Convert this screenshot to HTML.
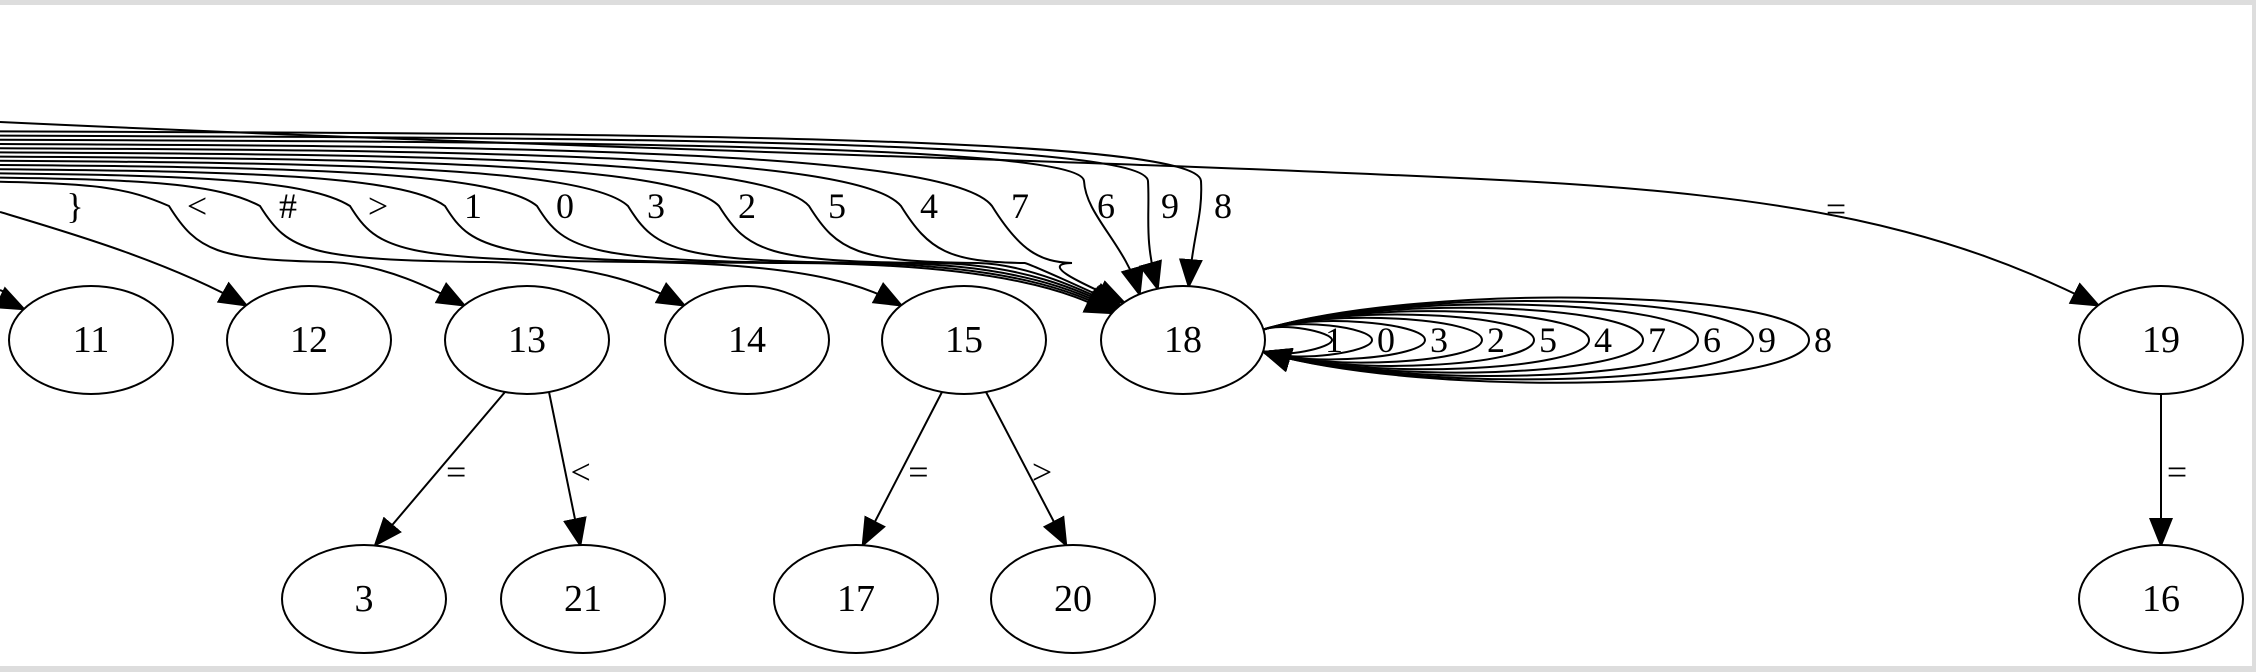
<!DOCTYPE html>
<html><head><meta charset="utf-8"><style>
html,body{margin:0;padding:0;background:#fff;}
#wrap{width:2256px;height:672px;position:relative;overflow:hidden;background:#fff;}
svg text{font-family:"Liberation Serif",serif;}
</style></head><body>
<div id="wrap">
<svg id="g" width="2256" height="672" xmlns="http://www.w3.org/2000/svg">
<defs><marker id="ah" viewBox="0 0 10 10" refX="9" refY="5" markerWidth="30" markerHeight="30" markerUnits="userSpaceOnUse" orient="auto"><path d="M0,1 L10,5 L0,9 z" fill="#000"/></marker></defs>
<rect x="0" y="0" width="2256" height="5" fill="#ddd"/>
<rect x="0" y="666" width="2256" height="6" fill="#ddd"/>
<rect x="2252" y="0" width="4" height="672" fill="#ddd"/>
</svg></div>
<script>
const nodeIds=["11","12","13","14","15","18","19","3","21","17","20","16"];
const nodeX=[91,309,527,747,964,1183,2161,364,583,856,1073,2161];
const nodeY=[340,340,340,340,340,340,340,599,599,599,599,599];
const topLabels=["}","<","#",">","1","0","3","2","5","4","7","6","9","8"];
const topTargets=["12","13","14","15","18","18","18","18","18","18","18","18","18","18"];
const topLabelX=[75,197,288,378,473,565,656,747,837,929,1020,1106,1170,1223];
const loopLabels=["1","0","3","2","5","4","7","6","9","8"];
const loopLabelX=[1334,1386,1439,1496,1548,1603,1657,1712,1767,1823];
const treeFrom=["13","13","15","15","19"];
const treeTo=["3","21","17","20","16"];
const treeLabels=["=","<","=",">","="];
const svg=document.getElementById('g');
const NS='http://www.w3.org/2000/svg';
const RX=82,RY=54,LY=206;
function pos(id){const i=nodeIds.indexOf(id);return [nodeX[i],nodeY[i]];}
function mk(tag,attrs){const e=document.createElementNS(NS,tag);for(const k in attrs)e.setAttribute(k,attrs[k]);svg.appendChild(e);return e;}
function txt(x,y,s,size){const t=mk('text',{x:x,y:y,'font-size':size,'text-anchor':'middle','dominant-baseline':'central',fill:'#000'});t.textContent=s;return t;}
function onEll(id,deg){const [cx,cy]=pos(id);const a=deg*Math.PI/180;return [cx+RX*Math.cos(a),cy-RY*Math.sin(a)];}
{const p=onEll("11",145);const e=mk('path',{d:`M0,290 C20,298 ${p[0]-25},${p[1]-12} ${p[0]},${p[1]}`,fill:'none',stroke:'#000','stroke-width':2,'marker-end':'url(#ah)'});
}
const n=topLabels.length;
for(let i=0;i<n;i++){
  const lx=topLabelX[i],tg=topTargets[i];
  const y0=186-i*4.2;
  let d,ang;
  if(tg==="18"){
    const k=i-4; ang=[150,148,146,144,142,140,136,122,108,86][k];
    const p=onEll(tg,ang);
    if(k>=7){ d=`M0,${y0} C${lx*0.5},${y0+2} ${lx-25},${y0+4} ${lx-22},${LY-25} C${lx-20},${LY+10} ${p[0]+(k==9?4:-14)},${p[1]-50} ${p[0]},${p[1]}`; }
    else { d=`M0,${y0} C${lx*0.5},${y0+2} ${lx-70},${y0+6} ${lx-28},${LY} C${lx},${LY+45} ${lx+20},${262} ${(lx+p[0])/2},${263} C${p[0]-90},${264} ${p[0]-30},${p[1]-14} ${p[0]},${p[1]}`; }
  } else if(tg==="12"){
    const p=onEll(tg,140);
    d=`M0,212 C60,230 ${p[0]-80},${p[1]-45} ${p[0]},${p[1]}`;
  } else {
    const p=onEll(tg,140);
    d=`M0,${y0} C${lx*0.5},${y0+2} ${lx-70},${y0+6} ${lx-28},${LY} C${lx},${LY+45} ${lx+20},${260} ${(lx+p[0])/2},${262} C${p[0]-80},${264} ${p[0]-30},${p[1]-16} ${p[0]},${p[1]}`;
  }
  const e=mk('path',{d:d,fill:'none',stroke:'#000','stroke-width':2,'marker-end':'url(#ah)'});
  
  
  const t=txt(lx,LY,topLabels[i],36);
  
  
}
{const p=onEll("19",140);const e=mk('path',{d:`M0,122 C600,150 1100,160 1500,180 C1800,195 1950,230 ${p[0]},${p[1]}`,fill:'none',stroke:'#000','stroke-width':2,'marker-end':'url(#ah)'});

const t=txt(1836,209,"=",36);}
{const [cx,cy]=pos("18");const s=cx+RX-3;
for(let i=loopLabels.length-1;i>=0;i--){
  const ex=loopLabelX[i]+(i==0?-2:-14);const w=ex-s;const h=8+i*4.6;
  const d=`M${s},${cy-10} C${s+0.3*w},${cy-h-10} ${ex},${cy-h} ${ex},${cy} C${ex},${cy+h} ${s+0.3*w},${cy+h+10} ${s+2},${cy+12}`;
  const e=mk('path',{d:d,fill:'none',stroke:'#000','stroke-width':2,'marker-end':'url(#ah)'});
  
  
}
for(let i=0;i<loopLabels.length;i++){const t=txt(loopLabelX[i],cy,loopLabels[i],36);
  
  }
}
for(let i=0;i<treeFrom.length;i++){
  const [x1,y1]=pos(treeFrom[i]),[x2,y2]=pos(treeTo[i]);
  const dx=x2-x1;
  const sy=y1+RY;
  const sxx=x1+(dx>0?1:-1)*(Math.abs(dx)>1?22:0);
  const ex=x2-(x2-sxx)*0.08, ey=y2-RY;
  const e=mk('path',{d:`M${sxx},${sy-2} L${ex},${ey}`,fill:'none',stroke:'#000','stroke-width':2,'marker-end':'url(#ah)'});
  
  
  const mx=(sxx+ex)/2+16, my=472;
  const t=txt(mx,my,treeLabels[i],36);
  
  
}
for(let i=0;i<nodeIds.length;i++){
  const c=mk('ellipse',{cx:nodeX[i],cy:nodeY[i],rx:RX,ry:RY,fill:'#fff',stroke:'#000','stroke-width':2});
  
  
  const t=txt(nodeX[i],nodeY[i],nodeIds[i],38);
  
  
}
</script>
</body></html>
